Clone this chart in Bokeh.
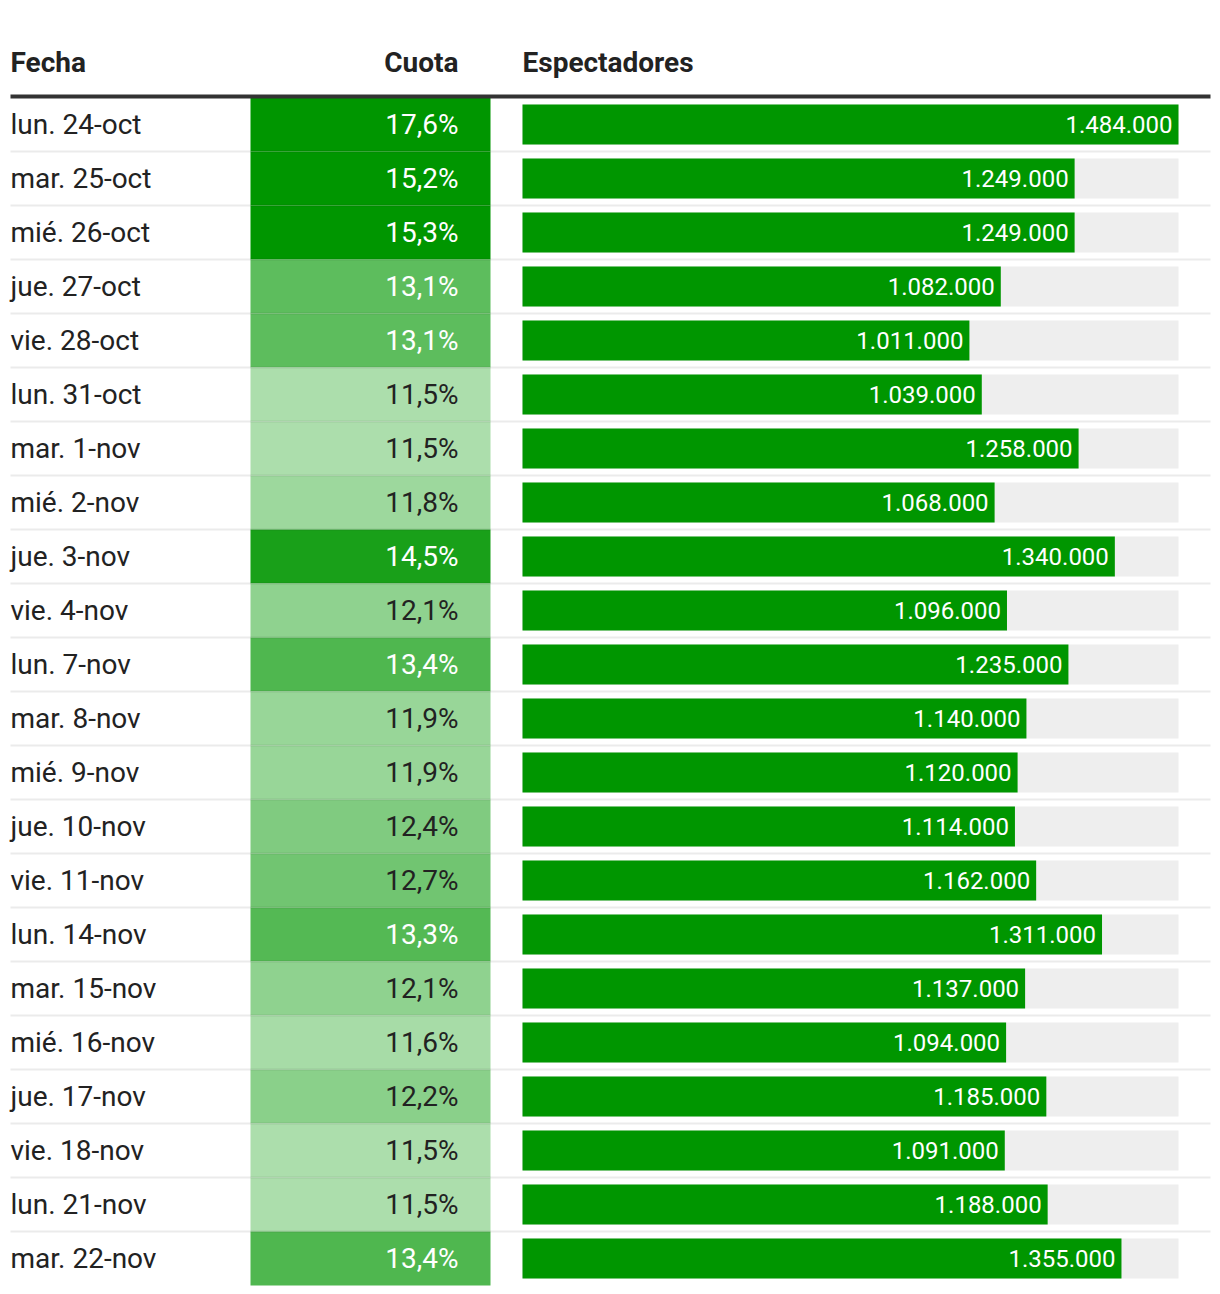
from bokeh.plotting import figure
from bokeh.models import Range1d, ColumnDataSource
from bokeh.core.properties import value
from bokeh.embed import file_html
from bokeh.resources import INLINE

# ---------------- data ----------------
fechas = ["lun. 24-oct", "mar. 25-oct", "mié. 26-oct", "jue. 27-oct", "vie. 28-oct",
          "lun. 31-oct", "mar. 1-nov", "mié. 2-nov", "jue. 3-nov", "vie. 4-nov",
          "lun. 7-nov", "mar. 8-nov", "mié. 9-nov", "jue. 10-nov", "vie. 11-nov",
          "lun. 14-nov", "mar. 15-nov", "mié. 16-nov", "jue. 17-nov", "vie. 18-nov",
          "lun. 21-nov", "mar. 22-nov"]
cuota = [17.6, 15.2, 15.3, 13.1, 13.1, 11.5, 11.5, 11.8, 14.5, 12.1, 13.4,
         11.9, 11.9, 12.4, 12.7, 13.3, 12.1, 11.6, 12.2, 11.5, 11.5, 13.4]
espectadores = [1484000, 1249000, 1249000, 1082000, 1011000, 1039000, 1258000,
                1068000, 1340000, 1096000, 1235000, 1140000, 1120000, 1114000,
                1162000, 1311000, 1137000, 1094000, 1185000, 1091000, 1188000, 1355000]
headers = ["Fecha", "Cuota", "Espectadores"]

# ---------------- layout ----------------
W, H = 1212, 1290
OFF = 0
ROW0_TOP = 97
ROW_H = 54
FONT = "Roboto"
DARK = "#222222"
GREEN = "#009600"


def ypx(py):
    return (py - ROW0_TOP) / ROW_H - 0.5


n = len(fechas)
idx = list(range(n))

LIGHT_RGB = (172, 222, 172)
DARK_RGB = (0, 150, 0)
CMIN, CMAX = 11.5, 15.0


def cell_color(v):
    t = min(max((v - CMIN) / (CMAX - CMIN), 0.0), 1.0)
    r, g, b = (round(l * (1 - t) + d * t) for l, d in zip(LIGHT_RGB, DARK_RGB))
    return "#%02x%02x%02x" % (r, g, b)


def fmt_cuota(v):
    return ("%.1f" % v).replace(".", ",") + "%"


def fmt_miles(v):
    return "{:,}".format(v).replace(",", ".")


src = ColumnDataSource(dict(
    y=idx,
    fecha=fechas,
    cuota=cuota,
    esp=espectadores,
    bgmax=[max(espectadores)] * n,
    zero=[0] * n,
    ccolor=[cell_color(v) for v in cuota],
    ctext=[fmt_cuota(v) for v in cuota],
    ctcolor=["#ffffff" if v >= 13.0 else DARK for v in cuota],
    etext=[fmt_miles(v) for v in espectadores],
))

p = figure(width=W, height=H, output_backend="svg", toolbar_location=None,
           x_range=Range1d(OFF, OFF + W), y_range=Range1d(ypx(OFF + H), ypx(OFF)),
           min_border=0, x_axis_location=None, y_axis_location=None)
p.grid.visible = False
p.outline_line_color = None
p.background_fill_color = "white"
p.border_fill_color = "white"

# bar scale: 0 -> px 522, max -> px 1178
BAR_L, BAR_R = 522, 1178
per_px = max(espectadores) / (BAR_R - BAR_L)
p.extra_x_ranges["bars"] = Range1d(-(BAR_L - OFF) * per_px, (OFF + W - BAR_L) * per_px)

# cuota cells
p.rect(x=(250 + 490) / 2, y="y", width=240, height=1.0, fill_color="ccolor",
       line_color=None, source=src)

# background bars and bars
p.hbar(y="y", left="zero", right="bgmax", height=40 / ROW_H, fill_color="#eeeeee",
       line_color=None, source=src, x_range_name="bars")
p.hbar(y="y", left="zero", right="esp", height=40 / ROW_H, fill_color=GREEN,
       line_color=None, source=src, x_range_name="bars")

# row separators
sep_y = [i + 0.5 for i in idx[:-1]]
p.segment(x0=10, x1=1210, y0=sep_y, y1=sep_y, line_color="black", line_alpha=0.08,
          line_width=2)

# header line
p.segment(x0=10, x1=1210, y0=ypx(96), y1=ypx(96), line_color="#333333", line_width=4)

# header texts
hy = ypx(62)
p.text(x=[10], y=[hy], text=[headers[0]], text_font=value(FONT), text_font_style="bold",
       text_font_size="28px", text_color=DARK, text_align="left", text_baseline="middle")
p.text(x=[458], y=[hy], text=[headers[1]], text_font=value(FONT), text_font_style="bold",
       text_font_size="28px", text_color=DARK, text_align="right", text_baseline="middle")
p.text(x=[522], y=[hy], text=[headers[2]], text_font=value(FONT), text_font_style="bold",
       text_font_size="28px", text_color=DARK, text_align="left", text_baseline="middle")

# row texts
p.text(x=10, y="y", text="fecha", text_font=value(FONT), text_font_size="28px",
       text_color=DARK, text_align="left", text_baseline="middle", source=src)
p.text(x=458, y="y", text="ctext", text_font=value(FONT), text_font_size="28px",
       text_color="ctcolor", text_align="right", text_baseline="middle", source=src)
p.text(x="esp", y="y", text="etext", text_font=value(FONT), text_font_size="24px",
       text_color="white", text_align="right", text_baseline="middle", x_offset=-6,
       source=src, x_range_name="bars")

open("out.html", "w").write(file_html(p, INLINE))
